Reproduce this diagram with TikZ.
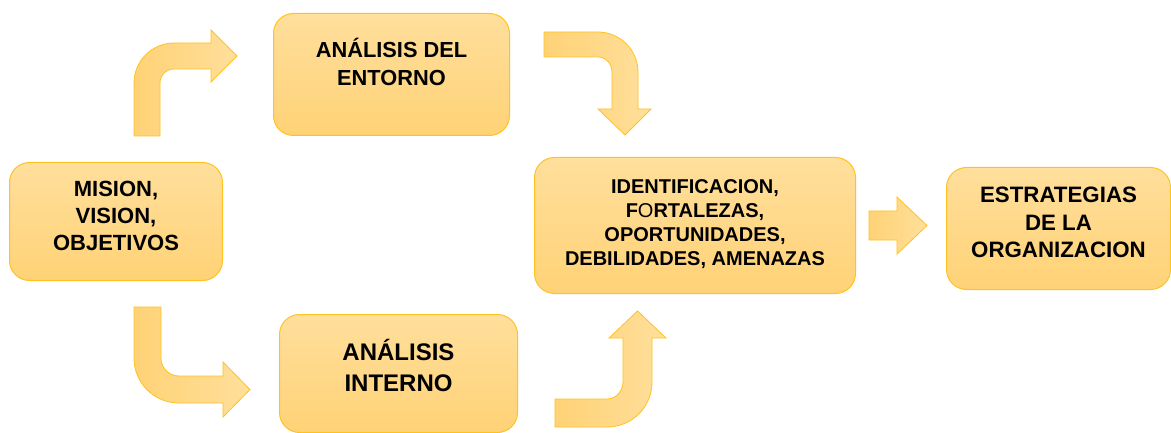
\documentclass[tikz,border=0pt]{standalone}
\usepackage{fontspec}
\setmainfont{Liberation Sans}
\definecolor{box_top}{RGB}{255,223,156}
\definecolor{box_bot}{RGB}{255,210,118}
\definecolor{box_line}{RGB}{255,194,32}
\definecolor{arr_dark}{RGB}{255,210,118}
\definecolor{arr_light}{RGB}{255,223,155}
\tikzstyle{blk}=[rectangle,rounded corners=20pt,draw=box_line,line width=1pt,
  top color=box_top,bottom color=box_bot,inner sep=0pt,anchor=north west,
  align=center,font=\bfseries]
\tikzstyle{barrow}=[draw=box_line,line width=0.8pt,left color=arr_dark,
  right color=arr_light]

\begin{document}
\begin{tikzpicture}[x=1pt,y=-1pt]
        \useasboundingbox (0,0) rectangle (1171,433);
        \node [style=blk,minimum width=213pt,text height=88pt,text depth=30pt,
          font=\bfseries\fontsize{22}{27}\selectfont] (mvo) at (9,162)
          {MISION,\\VISION,\\OBJETIVOS};
        \node [style=blk,minimum width=236pt,text height=72pt,text depth=50pt,
          font=\bfseries\fontsize{21.8}{27.7}\selectfont] (ext) at (273,13)
          {ANÁLISIS DEL\\ENTORNO};
        \node [style=blk,minimum width=238pt,text height=77pt,text depth=41pt,
          font=\bfseries\fontsize{24}{31}\selectfont] (int) at (279,314)
          {ANÁLISIS\\INTERNO};
        \node [style=blk,minimum width=321pt,text height=108pt,text depth=28pt,
          font=\bfseries\fontsize{20}{24}\selectfont] (foda) at (534,157)
          {IDENTIFICACION,\\F{\mdseries O}RTALEZAS,\\OPORTUNIDADES,\\DEBILIDADES, AMENAZAS};
        \node [style=blk,minimum width=224pt,text height=90pt,text depth=32pt,
          font=\bfseries\fontsize{22.3}{27.5}\selectfont] (est) at (946,167)
          {ESTRATEGIAS\\DE LA\\ORGANIZACION};
        \draw [style=barrow] (134,136) -- (134,83) .. controls (134,61) and (152,43) .. (174,43)
          -- (211,43) -- (211,30) -- (237,56) -- (211,82) -- (211,69) -- (174,69)
          .. controls (166,69) and (160,75) .. (160,83) -- (160,136) -- cycle;
        \draw [style=barrow] (544,32) -- (598,32) .. controls (620,32) and (638,50) .. (638,72)
          -- (638,109) -- (651,109) -- (625,135) -- (598,109) -- (612,109) -- (612,72)
          .. controls (612,64) and (606,57) .. (598,57) -- (544,57) -- cycle;
        \draw [style=barrow] (134,307) -- (134,358) .. controls (134,383) and (154,403) .. (179,403)
          -- (223,403) -- (223,417) -- (250,389.5) -- (223,362) -- (223,376) -- (179,376)
          .. controls (169,376) and (161,368) .. (161,358) -- (161,307) -- cycle;
        \draw [style=barrow] (555,399) -- (607,399) .. controls (616,399) and (623,391) .. (623,382)
          -- (623,338) -- (609,338) -- (637.5,311) -- (666,338) -- (652,338) -- (652,382)
          .. controls (652,407) and (632,427) .. (607,427) -- (555,427) -- cycle;
        \draw [style=barrow] (869,211) -- (897,211) -- (897,197) -- (927,225.5) -- (897,254)
          -- (897,240) -- (869,240) -- cycle;
    \end{tikzpicture}
\end{document}
